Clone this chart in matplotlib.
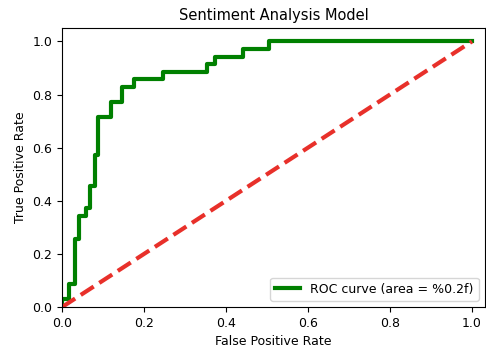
import matplotlib
matplotlib.use("Agg")
import matplotlib.pyplot as plt

# ROC curve points
fpr = [0.0, 0.0, 0.016, 0.016, 0.032, 0.032, 0.042, 0.042, 0.058, 0.058, 0.068, 0.068,
       0.079, 0.079, 0.087, 0.087, 0.12, 0.12, 0.146, 0.146, 0.176, 0.176, 0.247, 0.247,
       0.354, 0.354, 0.372, 0.372, 0.442, 0.442, 0.505, 0.505, 1.0]
tpr = [0.0, 0.029, 0.029, 0.086, 0.086, 0.257, 0.257, 0.343, 0.343, 0.371, 0.371, 0.457,
       0.457, 0.571, 0.571, 0.714, 0.714, 0.771, 0.771, 0.829, 0.829, 0.857, 0.857, 0.886,
       0.886, 0.914, 0.914, 0.943, 0.943, 0.971, 0.971, 1.0, 1.0]
chance = [0, 1]

fig = plt.figure(figsize=(4.86, 3.52), dpi=100)
ax = fig.add_axes([0.128, 0.128, 0.87, 0.792])
ax.plot(fpr, tpr, color="green", lw=3, label="ROC curve (area = %0.2f)")
ax.plot(chance, chance, color="#e8302a", lw=3, linestyle="--")
ax.set_xlim([0.0, 1.032])
ax.set_ylim([0.0, 1.05])
ax.tick_params(labelsize=9)
ax.set_xlabel("False Positive Rate", fontsize=9)
ax.set_ylabel("True Positive Rate", fontsize=9)
ax.set_title("Sentiment Analysis Model", fontsize=10.5)
ax.legend(loc="lower right", fontsize=9)

fig.savefig("out.png", dpi=100)
